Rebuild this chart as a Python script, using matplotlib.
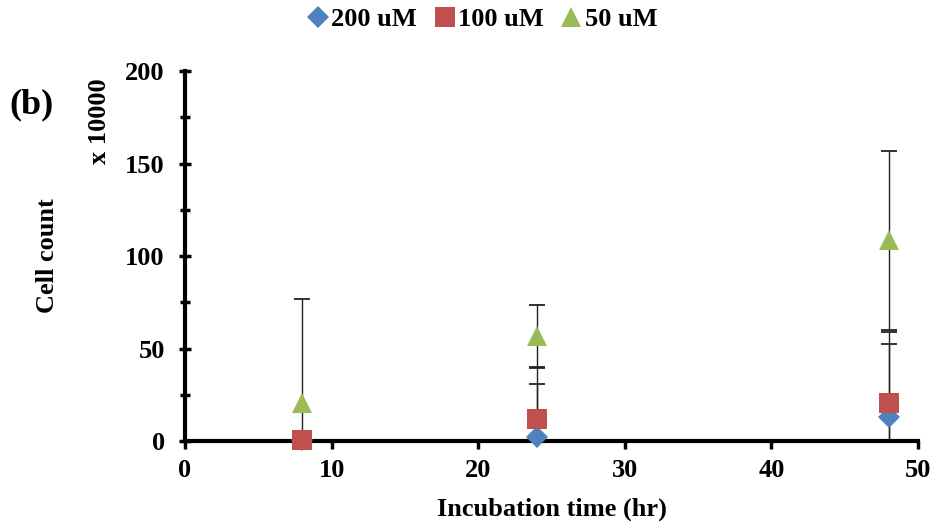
import matplotlib
matplotlib.use("Agg")
import matplotlib.pyplot as plt
from matplotlib.ticker import MultipleLocator

# Incubation times (hr)
times = [8, 24, 48]

# Cell count (x 10000) with error, per concentration
series_names = ["200 uM", "100 uM", "50 uM"]
count_200 = [0.3, 2, 13]
err_200 = [0.2, 38, 46]
count_100 = [0.8, 12, 20.5]
err_100 = [0.5, 19, 32]
count_50 = [20.5, 56.5, 108.5]
err_50 = [56, 17, 48.5]

x_ticks = [0, 10, 20, 30, 40, 50]
y_ticks = [0, 50, 100, 150, 200]

plt.rcParams['font.family'] = ['Liberation Serif', 'DejaVu Serif']
plt.rcParams['font.weight'] = 'bold'

fig = plt.figure(figsize=(9.34, 5.26), dpi=100)
ax = fig.add_axes([0.198, 0.1616, 0.785, 0.7034])

styles = [
    (count_200, err_200, 'D', '#4F81BD', 11),
    (count_100, err_100, 's', '#C0504D', 14),
    (count_50, err_50, '^', '#9BBB59', 15),
]

handles = []
for (vals, errs, mk, col, ms), name in zip(styles, series_names):
    ax.errorbar(times, vals, yerr=errs, fmt='none', ecolor='#222222',
                elinewidth=1.0, capsize=6, capthick=1.3, zorder=2, clip_on=True)
    h, = ax.plot(times, vals, linestyle='none', marker=mk, markersize=ms,
                 color=col, markeredgewidth=0, zorder=3, clip_on=False, label=name)
    handles.append(h)

ax.set_xlim(0, 50)
ax.set_ylim(0, 200)
ax.set_xticks(x_ticks)
ax.set_yticks(y_ticks)
ax.yaxis.set_minor_locator(MultipleLocator(25))

for side in ['top', 'right']:
    ax.spines[side].set_visible(False)
for side in ['left', 'bottom']:
    ax.spines[side].set_linewidth(3)
    ax.spines[side].set_color('black')

ax.tick_params(axis='y', which='major', direction='inout', length=9, width=2.5,
               labelsize=19, pad=10)
ax.tick_params(axis='y', which='minor', direction='inout', length=7, width=2.5)
ax.tick_params(axis='x', which='major', direction='out', length=6, width=2.5,
               labelsize=19, pad=7)

for lab in ax.get_xticklabels() + ax.get_yticklabels():
    lab.set_fontweight('bold')

ax.set_xlabel("Incubation time (hr)", fontsize=19, fontweight='bold', labelpad=11)
ax.set_ylabel("Cell count", fontsize=19, fontweight='bold', labelpad=0)
ax.yaxis.set_label_coords(-0.172, 0.5)

fig.text(0.107, 0.77, "x 10000", rotation=90, fontsize=19, fontweight='bold',
         ha='center', va='center')
fig.text(0.010, 0.80, "(b)", fontsize=26, fontweight='bold', ha='left', va='center')

fig.legend(handles=handles, labels=series_names, loc='upper center',
           bbox_to_anchor=(0.515, 1.03), ncol=3, frameon=False,
           handletextpad=0.0, columnspacing=0.55, handlelength=1.0,
           prop={'weight': 'bold', 'size': 19})

fig.savefig("out.png", dpi=100)
